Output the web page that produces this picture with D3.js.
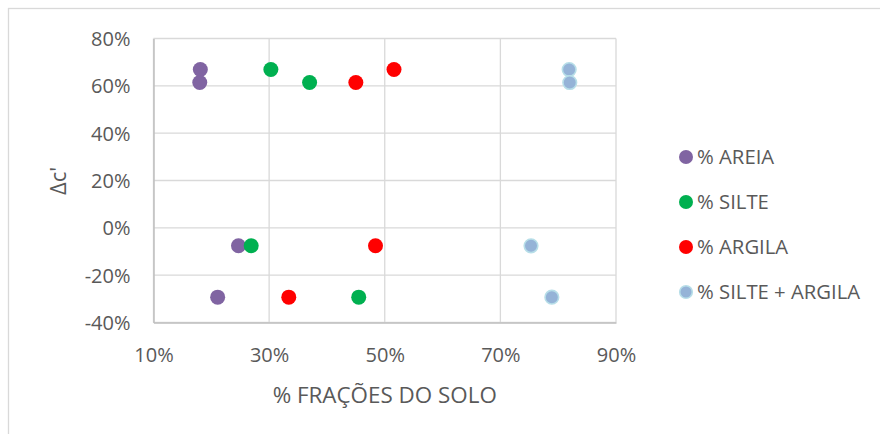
<!DOCTYPE html>
<html>
<head>
<meta charset="utf-8">
<script src="https://cdn.jsdelivr.net/npm/d3@7"></script>
<style>
  html, body { margin: 0; padding: 0; background: #fff; }
  svg { display: block; font-family: "Open Sans", "Noto Sans", sans-serif; }
</style>
</head>
<body>
<svg id="chart" width="880" height="434"></svg>
<script>
// Soil fraction (%) vs Δc' for each sample
const seriesNames = ["% AREIA", "% SILTE", "% ARGILA", "% SILTE + ARGILA"];
const seriesColors = ["#8064A2", "#00B050", "#FF0000", "#95B3D7"];
const deltaC = [66.9, 61.4, -7.6, -29.3];
const areia = [18.1, 18.0, 24.7, 21.1];
const silte = [30.3, 37.0, 26.9, 45.5];
const argila = [51.6, 45.0, 48.4, 33.4];
const silteArgila = [81.9, 82.0, 75.3, 78.9];
const xTicks = [10, 30, 50, 70, 90];
const yTicks = [-40, -20, 0, 20, 40, 60, 80];

const seriesValues = [areia, silte, argila, silteArgila];

const svg = d3.select("#chart");
const textColor = "#595959";
const gridColor = "#d9d9d9";

// outer chart frame
svg.append("rect")
  .attr("x", 8.5).attr("y", 8.5)
  .attr("width", 900).attr("height", 500)
  .attr("fill", "none").attr("stroke", gridColor).attr("stroke-width", 1.3);

const plot = { left: 153.5, right: 616, top: 38.5, bottom: 322.5 };

const x = d3.scaleLinear().domain([10, 90]).range([plot.left, plot.right]);
const y = d3.scaleLinear().domain([-40, 80]).range([plot.bottom, plot.top]);

// gridlines
const grid = svg.append("g");
grid.selectAll(".vg").data(xTicks).join("line")
  .attr("x1", d => x(d)).attr("x2", d => x(d))
  .attr("y1", plot.top).attr("y2", plot.bottom)
  .attr("stroke", gridColor).attr("stroke-width", 1.3);
grid.selectAll(".hg").data(yTicks).join("line")
  .attr("x1", plot.left).attr("x2", plot.right)
  .attr("y1", d => y(d)).attr("y2", d => y(d))
  .attr("stroke", gridColor).attr("stroke-width", 1.3);

// axes (lines only darker, labels formatted as percentages)
const xAxis = svg.append("g")
  .attr("transform", `translate(0,${plot.bottom})`)
  .call(d3.axisBottom(x).tickValues(xTicks).tickSize(0).tickPadding(25.5).tickFormat(d => d + "%"));
const yAxis = svg.append("g")
  .attr("transform", `translate(${plot.left},0)`)
  .call(d3.axisLeft(y).tickValues(yTicks).tickSize(0).tickPadding(23).tickFormat(d => d + "%"));

[xAxis, yAxis].forEach(a => {
  a.select(".domain").attr("stroke", "#bfbfbf").attr("stroke-width", 1.5);
  a.selectAll("text").attr("fill", textColor).attr("font-size", 20)
    .attr("font-family", "\"Open Sans\", sans-serif");
});
yAxis.selectAll("text").attr("dy", "0.35em");

// axis titles
svg.append("text")
  .attr("x", (plot.left + plot.right) / 2).attr("y", 402.5)
  .attr("text-anchor", "middle").attr("fill", textColor).attr("font-size", 22.4)
  .text("% FRAÇÕES DO SOLO");
svg.append("text")
  .attr("transform", "translate(66,181) rotate(-90)")
  .attr("text-anchor", "middle").attr("fill", textColor).attr("font-size", 22)
  .text("Δc'");

// points
const pts = svg.append("g");
seriesValues.forEach((vals, s) => {
  pts.selectAll(null).data(vals.map((v, i) => ({ x: v, y: deltaC[i] }))).join("circle")
    .attr("cx", d => x(d.x)).attr("cy", d => y(d.y))
    .attr("r", s === 3 ? 6.8 : 7.5)
    .attr("fill", seriesColors[s])
    .attr("stroke", s === 3 ? "#b7dee8" : "none")
    .attr("stroke-width", s === 3 ? 1.6 : 0);
});

// legend
const legend = svg.append("g").attr("transform", "translate(686,157)");
seriesNames.forEach((name, i) => {
  const row = legend.append("g").attr("transform", `translate(0,${i * 45})`);
  row.append("circle").attr("r", i === 3 ? 6.3 : 7)
    .attr("fill", seriesColors[i])
    .attr("stroke", i === 3 ? "#b7dee8" : "none")
    .attr("stroke-width", i === 3 ? 1.6 : 0);
  row.append("text").attr("x", 11).attr("dy", "0.35em")
    .attr("fill", textColor).attr("font-size", 20.3)
    .text(name);
});
</script>
</body>
</html>
